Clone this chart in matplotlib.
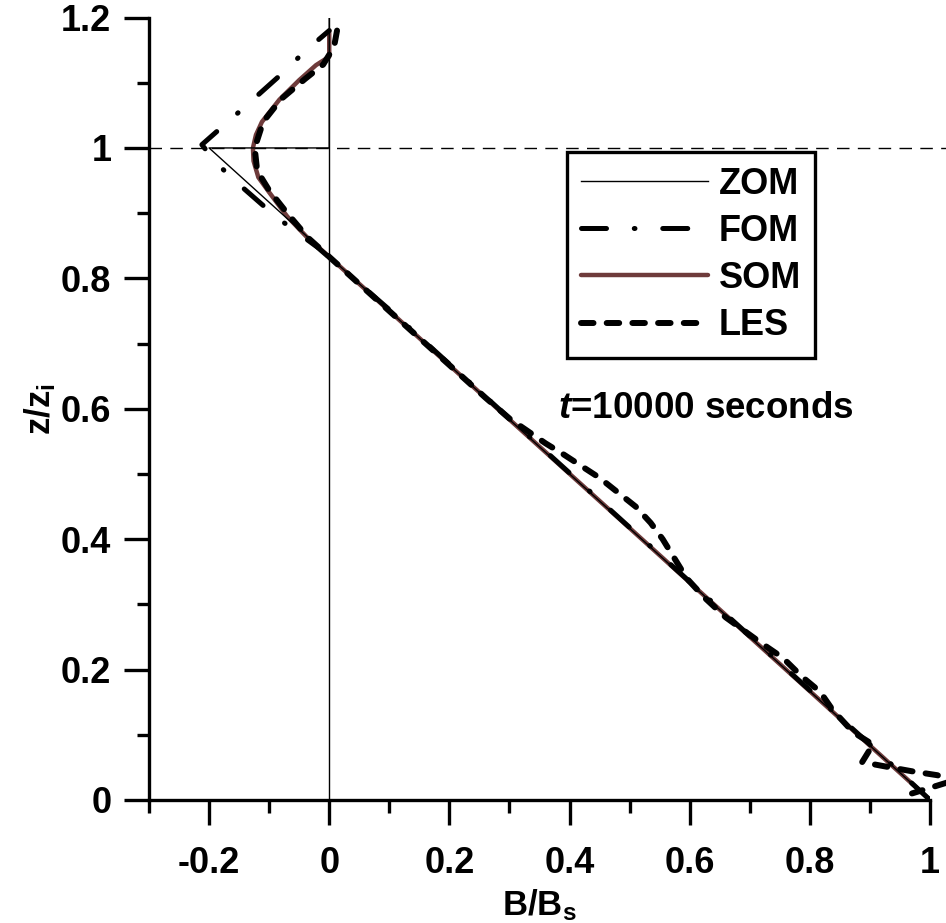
import numpy as np
import matplotlib
matplotlib.use('Agg')
import matplotlib.pyplot as plt
from matplotlib.lines import Line2D

plt.rcParams['font.family'] = ['Liberation Sans', 'DejaVu Sans']
plt.rcParams['font.weight'] = 'bold'
plt.rcParams['mathtext.fontset'] = 'custom'
plt.rcParams['mathtext.rm'] = 'Liberation Sans:bold'
plt.rcParams['mathtext.bf'] = 'Liberation Sans:bold'
plt.rcParams['mathtext.it'] = 'Liberation Sans:bold:italic'
plt.rcParams['lines.scale_dashes'] = False

# ---- data (B/Bs, z/zi) ----
b_zom = [1.0, -0.2, 0.0, 0.0]
z_zom = [0.0, 1.0, 1.0, 1.2]

b_fom = [1.0, 0.9, 0.5, 0.1, -0.02, -0.088, -0.155, -0.188, -0.212,
         -0.143, -0.075, -0.042, 0.0]
z_fom = [0.0, 0.085, 0.418, 0.752, 0.848, 0.894, 0.948, 0.977, 1.005,
         1.061, 1.117, 1.147, 1.18]

b_som = [1.0, 0.5, 0.1, 0.0, -0.038, -0.07, -0.1, -0.118, -0.126, -0.127,
         -0.122, -0.112, -0.083, -0.05, -0.022, 0.0, 0.0]
z_som = [0.0, 0.417, 0.75, 0.833, 0.864, 0.895, 0.932, 0.955, 0.98, 1.0,
         1.02, 1.04, 1.074, 1.104, 1.127, 1.14, 1.18]

b_les = [0.013, 0.008, -0.01, -0.04, -0.08, -0.11, -0.124, -0.12, -0.1,
         -0.07, -0.035, 0.0, 0.06, 0.13, 0.2, 0.26, 0.3, 0.33, 0.36, 0.39,
         0.42, 0.45, 0.48, 0.51, 0.535, 0.555, 0.575, 0.595, 0.625, 0.66,
         0.717, 0.755, 0.787, 0.817, 0.838, 0.872, 0.905, 0.887, 0.928,
         0.97, 1.012, 1.04, 0.97]
z_les = [1.18, 1.155, 1.128, 1.106, 1.075, 1.04, 1.0, 0.965, 0.935, 0.9,
         0.862, 0.833, 0.783, 0.725, 0.667, 0.617, 0.585, 0.566, 0.547,
         0.53, 0.512, 0.494, 0.472, 0.45, 0.425, 0.4, 0.37, 0.34, 0.31,
         0.28, 0.242, 0.218, 0.189, 0.166, 0.138, 0.104, 0.085, 0.058,
         0.051, 0.044, 0.038, 0.03, 0.01]

som_color = '#6E3B3B'

fig = plt.figure(figsize=(9.46, 9.23), dpi=100)
ax = fig.add_axes([0.1575, 0.1333, 0.8256, 0.8477])

# reference lines
ax.axvline(0, color='k', lw=1.0, zorder=1)
ax.plot([-0.3, 1.03], [1.0, 1.0], color='k', lw=1.0, dashes=(9, 6),
        clip_on=False, zorder=1)

ax.plot(b_zom, z_zom, color='k', lw=1.0, label='ZOM', zorder=3)
ax.plot(b_som, z_som, color=som_color, lw=3.2, solid_capstyle='round',
        label='SOM', zorder=2)
ax.plot(b_fom, z_fom, color='k', lw=3.6, dashes=(18, 20, 0.5, 20),
        dash_capstyle='round', label='FOM', zorder=4)
ax.plot(b_les, z_les, color='k', lw=4.3, dashes=(9, 9.5),
        dash_capstyle='round', label='LES', clip_on=False, zorder=4)

ax.set_xlim(-0.3, 1.0)
ax.set_ylim(0, 1.2)
ax.set_xticks([-0.2, 0, 0.2, 0.4, 0.6, 0.8, 1.0])
ax.set_xticklabels(['-0.2', '0', '0.2', '0.4', '0.6', '0.8', '1'])
ax.set_xticks(np.arange(-0.3, 1.01, 0.1), minor=True)
ax.set_yticks([0, 0.2, 0.4, 0.6, 0.8, 1.0, 1.2])
ax.set_yticklabels(['0', '0.2', '0.4', '0.6', '0.8', '1', '1.2'])
ax.set_yticks(np.arange(0, 1.21, 0.1), minor=True)

for s in ['top', 'right']:
    ax.spines[s].set_visible(False)
for s in ['left', 'bottom']:
    ax.spines[s].set_linewidth(2.4)
ax.tick_params(which='major', direction='out', length=18, width=2.4,
               labelsize=26)
ax.tick_params(which='minor', direction='out', length=9, width=2.4)
ax.tick_params(axis='x', which='major', pad=15)
ax.tick_params(axis='y', which='major', pad=9)

ax.set_xlabel(r'B/B$_\mathbf{s}$', fontsize=25, fontweight='bold', labelpad=5)
ax.set_ylabel(r'z/z$_\mathbf{i}$', fontsize=25, fontweight='bold', labelpad=2)

ax.text(0.38, 0.6, r'$\mathit{t}$=10000 seconds', fontsize=26.5,
        fontweight='bold', va='center', ha='left')

handles = [
    Line2D([], [], color='k', lw=1.0),
    Line2D([], [], color='k', lw=3.6, dashes=(18, 20, 0.5, 20),
           dash_capstyle='round'),
    Line2D([], [], color=som_color, lw=3.2, solid_capstyle='round'),
    Line2D([], [], color='k', lw=4.3, dashes=(9, 9.5), dash_capstyle='round'),
]
leg = ax.legend(handles, ['ZOM', 'FOM', 'SOM', 'LES'], loc='upper left',
                bbox_to_anchor=(0.535, 0.828), fontsize=26, frameon=True,
                fancybox=False, shadow=False, handlelength=3.5,
                handletextpad=0.3, labelspacing=0.34, borderpad=0.4,
                borderaxespad=0)
leg.get_frame().set_edgecolor('k')
leg.get_frame().set_linewidth(2.4)
leg.get_frame().set_alpha(1)

fig.savefig('out.png', dpi=100)
